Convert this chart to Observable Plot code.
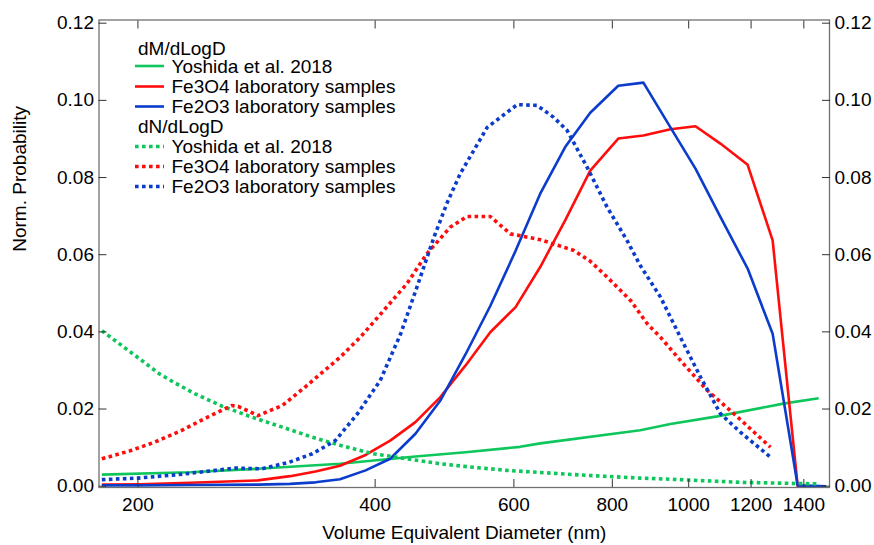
<!DOCTYPE html>
<html>
<head>
<meta charset="utf-8">
<script src="https://cdn.jsdelivr.net/npm/d3@7"></script>
<script src="https://cdn.jsdelivr.net/npm/@observablehq/plot@0.6"></script>
<style>
  html, body { margin: 0; padding: 0; background: #fff; }
  #chart { position: relative; width: 874px; height: 545px; }
</style>
</head>
<body>
<div id="chart"></div>
<script>
// ---------- data ----------
const xTicks = [200, 400, 600, 800, 1000, 1200, 1400];
const yTicks = [0, 0.02, 0.04, 0.06, 0.08, 0.10, 0.12];

const xTitle = "Volume Equivalent Diameter (nm)";
const yTitle = "Norm. Probability";
const groupHeaders = ["dM/dLogD", "dN/dLogD"];
const seriesNames = ["Yoshida et al. 2018", "Fe3O4 laboratory samples", "Fe2O3 laboratory samples"];

// dM/dLogD
const yoshidaM_d = [180, 233, 284, 361, 450, 521, 611, 648, 868, 948, 1087, 1319, 1462];
const yoshidaM_v = [0.0030, 0.0036, 0.0045, 0.0058, 0.0077, 0.0088, 0.0102, 0.0111, 0.0145, 0.0161, 0.0181, 0.0214, 0.0228];

const fe3o4M_d = [180, 201, 233, 284, 312, 336, 361, 389, 418, 450, 484, 521, 560, 603, 648, 697, 750, 814, 876, 948, 1020, 1097, 1188, 1278, 1375, 1470];
const fe3o4M_v = [0.0004, 0.0005, 0.0009, 0.0015, 0.0026, 0.0038, 0.0053, 0.0081, 0.0118, 0.0166, 0.0231, 0.0313, 0.0399, 0.0464, 0.0568, 0.0689, 0.0818, 0.0901, 0.0909, 0.0925, 0.0933, 0.0888, 0.0833, 0.0637, 0.0000, 0.0000];

const fe2o3M_d = [180, 201, 233, 284, 312, 336, 361, 389, 418, 450, 484, 521, 560, 603, 648, 697, 750, 814, 876, 948, 1020, 1097, 1188, 1278, 1375, 1495];
const fe2o3M_v = [0.0002, 0.0002, 0.0003, 0.0004, 0.0006, 0.0010, 0.0018, 0.0041, 0.0071, 0.0136, 0.0222, 0.0342, 0.0467, 0.0610, 0.0758, 0.0879, 0.0968, 0.1038, 0.1046, 0.0930, 0.0823, 0.0698, 0.0564, 0.0395, 0.0002, 0.0000];

// dN/dLogD
const yoshidaN_d = [180, 201, 213, 221, 236, 256, 279, 305, 333, 361, 398, 439, 484, 533, 588, 642, 743, 868, 948, 1163, 1456];
const yoshidaN_v = [0.0403, 0.0330, 0.0291, 0.0272, 0.0240, 0.0207, 0.0179, 0.0153, 0.0127, 0.0106, 0.0084, 0.0071, 0.0058, 0.0049, 0.0041, 0.0036, 0.0028, 0.0021, 0.0018, 0.0010, 0.0006];

const fe3o4N_d = [180, 195, 210, 227, 243, 263, 268, 284, 305, 326, 361, 383, 410, 439, 465, 498, 523, 560, 594, 648, 715, 750, 788, 844, 886, 921, 976, 1056, 1141, 1270];
const fe3o4N_v = [0.0071, 0.0091, 0.0114, 0.0144, 0.0175, 0.0209, 0.0207, 0.0183, 0.0209, 0.0257, 0.0334, 0.0386, 0.0455, 0.0525, 0.0602, 0.0671, 0.0699, 0.0699, 0.0654, 0.0639, 0.0611, 0.0583, 0.0542, 0.0481, 0.0421, 0.0386, 0.0326, 0.0248, 0.0188, 0.0101];

const fe2o3N_d = [180, 200, 225, 251, 266, 287, 311, 333, 356, 380, 406, 431, 452, 475, 494, 513, 555, 606, 642, 674, 701, 743, 788, 835, 868, 921, 976, 1035, 1097, 1163, 1270];
const fe2o3N_v = [0.0017, 0.0021, 0.0030, 0.0041, 0.0047, 0.0045, 0.0062, 0.0084, 0.0118, 0.0188, 0.0274, 0.0395, 0.0516, 0.0645, 0.0736, 0.0810, 0.0930, 0.0989, 0.0987, 0.0956, 0.0922, 0.0827, 0.0723, 0.0637, 0.0572, 0.0490, 0.0386, 0.0283, 0.0188, 0.0140, 0.0075];

// ---------- styling ----------
const FONT = "Helvetica, 'Liberation Sans', Arial, sans-serif";
const colors = ["#0fc65c", "#ff0d0d", "#0b3ccc"];
const DOT = "3.6,3.4";

const series = [
  {group: 0, name: seriesNames[0], d: yoshidaM_d, v: yoshidaM_v, color: colors[0], dotted: false},
  {group: 0, name: seriesNames[1], d: fe3o4M_d,   v: fe3o4M_v,   color: colors[1], dotted: false},
  {group: 0, name: seriesNames[2], d: fe2o3M_d,   v: fe2o3M_v,   color: colors[2], dotted: false},
  {group: 1, name: seriesNames[0], d: yoshidaN_d, v: yoshidaN_v, color: colors[0], dotted: true},
  {group: 1, name: seriesNames[1], d: fe3o4N_d,   v: fe3o4N_v,   color: colors[1], dotted: true},
  {group: 1, name: seriesNames[2], d: fe2o3N_d,   v: fe2o3N_v,   color: colors[2], dotted: true}
];

const lineMarks = series.map(s => {
  const rows = s.d.map((d, i) => ({x: d, y: s.v[i]}));
  return Plot.line(rows, {
    x: "x", y: "y", stroke: s.color,
    strokeWidth: s.dotted ? 3.6 : 2.6,
    strokeDasharray: s.dotted ? DOT : null,
    strokeLinecap: "butt", strokeLinejoin: "round"
  });
});

const tickColor = "#333";
const TL = 8; // inward tick length
const fmtY = d3.format(".2f");

const plot = Plot.plot({
  width: 874,
  height: 545,
  marginLeft: 98.5,
  marginRight: 45,
  marginTop: 19.5,
  marginBottom: 58,
  style: {fontFamily: FONT, fontSize: "19px", color: "#000", background: "#fff", overflow: "visible"},
  x: {type: "log", domain: [178.5, 1509]},
  y: {domain: [-0.00034, 0.12083]},
  marks: [
    ...lineMarks,
    Plot.frame({stroke: "#707070", strokeWidth: 1.3}),
    // bottom axis: labels + inward ticks
    Plot.axisX({anchor: "bottom", ticks: xTicks, tickSize: 0, tickPadding: 10, tickFormat: d => String(d), label: null, fontSize: 19}),
    Plot.axisX({anchor: "bottom", ticks: xTicks, tickSize: TL, dy: -TL, tickFormat: () => "", label: null, stroke: tickColor}),
    // top axis: inward ticks only
    Plot.axisX({anchor: "top", ticks: xTicks, tickSize: TL, dy: TL, tickFormat: () => "", label: null, stroke: tickColor}),
    // left axis
    Plot.axisY({anchor: "left", ticks: yTicks, tickSize: 0, tickPadding: 5, tickFormat: fmtY, label: null, fontSize: 19}),
    Plot.axisY({anchor: "left", ticks: yTicks, tickSize: TL, dx: TL, tickFormat: () => "", label: null, stroke: tickColor}),
    // right axis
    Plot.axisY({anchor: "right", ticks: yTicks, tickSize: 0, tickPadding: 5, tickFormat: fmtY, label: null, fontSize: 19}),
    Plot.axisY({anchor: "right", ticks: yTicks, tickSize: TL, dx: -TL, tickFormat: () => "", label: null, stroke: tickColor}),
    // titles
    Plot.text([xTitle], {text: d => d, frameAnchor: "bottom", dy: 51, fontSize: 19}),
    Plot.text([yTitle], {text: d => d, frameAnchor: "left", rotate: -90, dx: -79, dy: -2, fontSize: 19})
  ]
});

document.getElementById("chart").appendChild(plot);

// ---------- legend ----------
const svg = d3.select(plot);
const lg = svg.append("g")
  .attr("font-family", FONT)
  .attr("font-size", 19)
  .attr("text-anchor", "start")
  .attr("fill", "#000");

const legendRows = [];
groupHeaders.forEach((h, gi) => {
  legendRows.push({header: true, label: h});
  series.filter(s => s.group === gi).forEach(s => legendRows.push({header: false, label: s.name, s}));
});
const baselines = [54.5, 72.5, 93, 113, 132.5, 153, 173, 193];
legendRows.forEach((r, i) => {
  const by = baselines[i];
  if (r.header) {
    lg.append("text").attr("x", 138).attr("y", by).attr("text-anchor", "start").text(r.label);
  } else {
    lg.append("line")
      .attr("x1", 135).attr("x2", 164)
      .attr("y1", by - 6.5).attr("y2", by - 6.5)
      .attr("stroke", r.s.color)
      .attr("stroke-width", r.s.dotted ? 3.6 : 2.6)
      .attr("stroke-dasharray", r.s.dotted ? DOT : null);
    lg.append("text").attr("x", 171.5).attr("y", by).attr("text-anchor", "start").text(r.label);
  }
});
</script>
</body>
</html>
